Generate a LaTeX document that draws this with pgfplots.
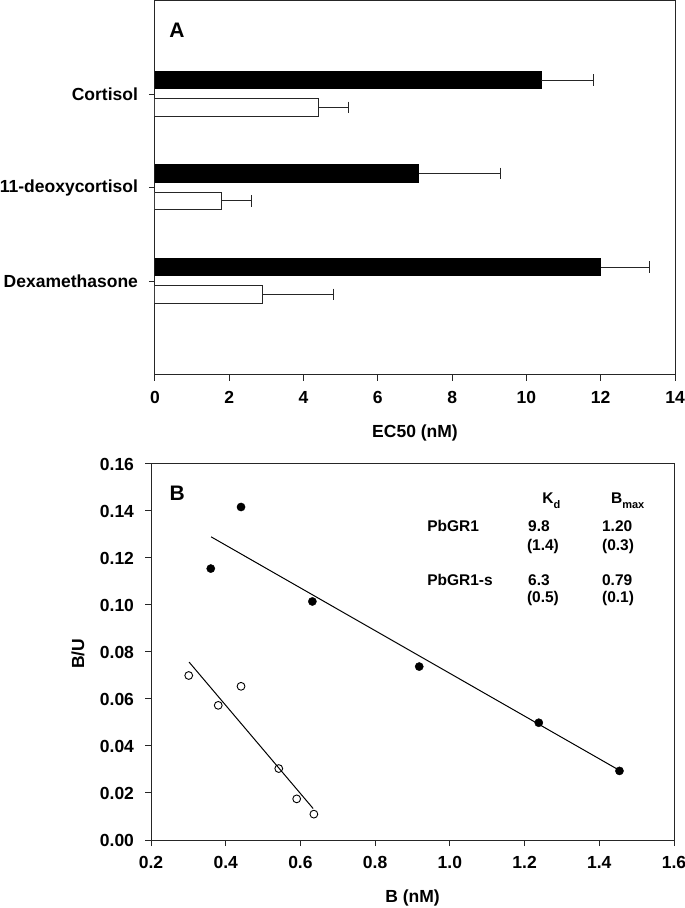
\documentclass[border=0pt]{standalone}
\usepackage{fontspec}
\setmainfont{Liberation Sans}
\usepackage{pgfplots}
\pgfplotsset{compat=1.18}
\begin{document}
\begin{tikzpicture}[font=\bfseries]
\path[use as bounding box] (0,0) rectangle (685pt,908pt);
\pgfplotsset{
 every axis/.append style={
  scale only axis,
  axis line style={line width=1pt, black!85},
  every tick/.style={line width=1pt, black!85},
  tick align=outside,
  major tick length=6pt,
  xtick pos=bottom, ytick pos=left,
  tick label style={font=\fontsize{17.5}{19}\selectfont\bfseries},
  label style={font=\fontsize{17.5}{19}\selectfont\bfseries},
  /pgf/number format/assume math mode=true,
  xticklabel shift=7pt, yticklabel shift=7.5pt,
 }
}
\begin{axis}[at={(155pt,533pt)}, anchor=south west, width=520pt, height=374pt,
 xmin=0, xmax=14, ymin=0, ymax=4,
 xtick={0,2,4,6,8,10,12,14}, ytick={1,2,3},
 yticklabels={Dexamethasone,11-deoxycortisol,Cortisol},
 xbar, bar width=17.5pt, bar shift=0pt,
 xlabel={EC50 (nM)},
 xlabel style={at={(axis description cs:0.5,0)}, anchor=center, yshift=-58pt},
]
\addplot[fill=black, draw=black, line width=1pt,
 error bars/.cd, x dir=plus, x explicit,
 error bar style={line width=1pt, black!85},
 error mark options={rotate=90, line width=1pt, mark size=5.8pt, black!85}]
 coordinates {(10.4,3.155) +- (1.4,0) (7.1,2.155) +- (2.2,0) (12.0,1.155) +- (1.3,0)};
\addplot[fill=white, draw=black!85, line width=1pt,
 error bars/.cd, x dir=plus, x explicit,
 error bar style={line width=1pt, black!85},
 error mark options={rotate=90, line width=1pt, mark size=5.8pt, black!85}]
 coordinates {(4.4,2.861) +- (0.8,0) (1.8,1.861) +- (0.8,0) (2.9,0.861) +- (1.9,0)};
\node[font=\fontsize{21}{24}\selectfont\bfseries, anchor=center] at (axis description cs:0.042,0.922) {A};
\end{axis}

\begin{axis}[at={(151pt,68pt)}, anchor=south west, width=523pt, height=376pt,
 xmin=0.2, xmax=1.6, ymin=0, ymax=0.16,
 xtick={0.2,0.4,0.6,0.8,1.0,1.2,1.4,1.6},
 ytick={0,0.02,0.04,0.06,0.08,0.10,0.12,0.14,0.16},
 xticklabel style={/pgf/number format/.cd, fixed, fixed zerofill, precision=1},
 yticklabel style={/pgf/number format/.cd, fixed, fixed zerofill, precision=2},
 xlabel={B (nM)}, ylabel={B/U},
 xlabel style={at={(axis description cs:0.5,0)}, anchor=center, yshift=-58pt},
 ylabel style={at={(axis description cs:-0.1396,0.495)}, anchor=center},
]
\addplot[only marks, mark=*, mark size=4.1pt, black] coordinates {
 (0.360,0.1155) (0.441,0.1417) (0.632,0.1015) (0.918,0.0738) (1.238,0.0499) (1.454,0.0294)};
\addplot[black, line width=1pt] coordinates {(0.361,0.1290) (1.451,0.0299)};
\addplot[only marks, mark=o, mark size=3.9pt, black, line width=0.9pt] coordinates {
 (0.301,0.0700) (0.380,0.0573) (0.441,0.0654) (0.542,0.0304) (0.590,0.0175) (0.636,0.0110)};
\addplot[black, line width=1pt] coordinates {(0.302,0.0757) (0.634,0.0134)};
\node[font=\fontsize{21}{24}\selectfont\bfseries, anchor=center] at (axis description cs:0.05,0.923) {B};
\begin{scope}[every node/.style={font=\fontsize{15.5}{17}\selectfont\bfseries, anchor=base west, inner sep=0pt}]
\node at (axis cs:1.247,0.1434) {K\raisebox{-5pt}{\fontsize{11}{12}\selectfont d}};
\node at (axis cs:1.431,0.1434) {B\raisebox{-5pt}{\fontsize{11}{12}\selectfont max}};
\node at (axis cs:0.939,0.1311) {PbGR1};
\node at (axis cs:1.209,0.1311) {9.8};
\node at (axis cs:1.407,0.1311) {1.20};
\node at (axis cs:1.206,0.1234) {(1.4)};
\node at (axis cs:1.407,0.1234) {(0.3)};
\node at (axis cs:0.939,0.1085) {PbGR1-s};
\node at (axis cs:1.209,0.1085) {6.3};
\node at (axis cs:1.407,0.1085) {0.79};
\node at (axis cs:1.206,0.1009) {(0.5)};
\node at (axis cs:1.407,0.1009) {(0.1)};
\end{scope}
\end{axis}
\end{tikzpicture}
\end{document}
